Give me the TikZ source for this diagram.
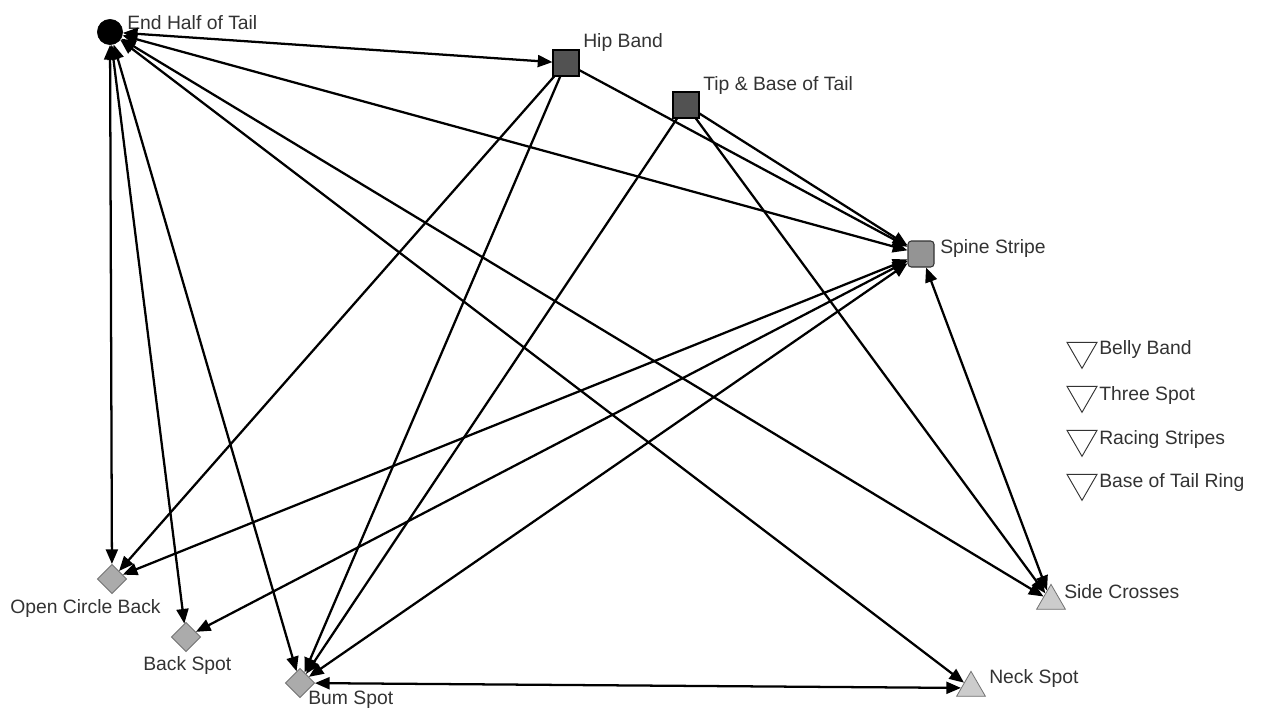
\documentclass[tikz,border=0pt]{standalone}
\usepackage{fontspec}
\setmainfont{Liberation Sans}
\usetikzlibrary{shapes.geometric,arrows.meta}
\begin{document}
\begin{tikzpicture}[x=0.75pt,y=-0.75pt,
  tip/.tip={Triangle[length=11pt,width=9pt]},
  edge/.style={line width=1.7pt,-tip},
  biedge/.style={line width=1.7pt,tip-tip},
  lbl/.style={font=\fontsize{14.5}{16}\selectfont,text=black!80,inner sep=0pt},
  circnode/.style={circle,fill=black,draw=black,minimum size=19pt,inner sep=0pt},
  sqnode/.style={rectangle,draw=black,line width=0.8pt,fill=black!68,minimum size=19.5pt,inner sep=0pt},
  rsqnode/.style={rectangle,rounded corners=2.5pt,draw=black!80,line width=0.8pt,fill=black!42,minimum size=19.5pt,inner sep=0pt},
  dianode/.style={diamond,draw=black!55,line width=0.6pt,fill=black!33,minimum width=22pt,minimum height=22pt,inner sep=0pt},
  trinode/.style={regular polygon,regular polygon sides=3,draw=black!55,line width=0.6pt,fill=black!20,minimum size=25pt,inner sep=0pt},
  legtri/.style={regular polygon,regular polygon sides=3,shape border rotate=180,draw=black!80,line width=0.7pt,fill=white,minimum size=26pt,inner sep=0pt}
]
\useasboundingbox (0,0) rectangle (1265,711);
\fill[white] (0,0) rectangle (1265,711);

% nodes
\node[circnode] (eht) at (110,32) {};
\node[sqnode] (hb) at (566,63) {};
\node[sqnode] (tbt) at (686,105) {};
\node[rsqnode] (ss) at (921,254) {};
\node[dianode] (ocb) at (112,579) {};
\node[dianode] (bs) at (186,637) {};
\node[dianode] (bus) at (300,683) {};
\node[trinode] (sc) at (1051,601) {};
\node[trinode] (ns) at (971,688) {};

\node[legtri] (t1) at (1082,351) {};
\node[legtri] (t2) at (1082,395) {};
\node[legtri] (t3) at (1082,439) {};
\node[legtri] (t4) at (1082,483) {};

% labels
\node[lbl,anchor=west] (leht) at (127,23) {End Half of Tail};
\node[lbl,anchor=west] (lhb) at (583,42) {Hip Band};
\node[lbl,anchor=west] (ltbt) at (703,85) {Tip \& Base of Tail};
\node[lbl,anchor=west] (lss) at (940,248) {Spine Stripe};
\node[lbl,anchor=west] (locb) at (10,608) {Open Circle Back};
\node[lbl,anchor=west] (lbs) at (143,665) {Back Spot};
\node[lbl,anchor=west] (lbus) at (308,700) {Bum Spot};
\node[lbl,anchor=west] (lsc) at (1064,592) {Side Crosses};
\node[lbl,anchor=west] (lns) at (989,678) {Neck Spot};
\node[lbl,anchor=west] (lt1) at (1099,349) {Belly Band};
\node[lbl,anchor=west] (lt2) at (1099,395) {Three Spot};
\node[lbl,anchor=west] (lt3) at (1099,439) {Racing Stripes};
\node[lbl,anchor=west] (lt4) at (1099,482) {Base of Tail Ring};

% edges
\draw[biedge] (eht) -- (hb);
\draw[biedge] (eht) -- (ss);
\draw[biedge] (eht) -- (ocb);
\draw[biedge] (eht) -- (bs);
\draw[biedge] (eht) -- (bus);
\draw[biedge] (eht) -- (ns);
\draw[biedge] (eht) -- (sc);
\draw[edge] (hb) -- (ocb);
\draw[edge] (hb) -- (bus);
\draw[edge] (hb) -- (ss);
\draw[edge] (tbt) -- (bus);
\draw[edge] (tbt) -- (ss);
\draw[edge] (tbt) -- (sc);
\draw[biedge] (ss) -- (ocb);
\draw[biedge] (ss) -- (bs);
\draw[biedge] (ss) -- (bus);
\draw[biedge] (ss) -- (sc);
\draw[biedge] (bus) -- (ns);
\end{tikzpicture}
\end{document}
